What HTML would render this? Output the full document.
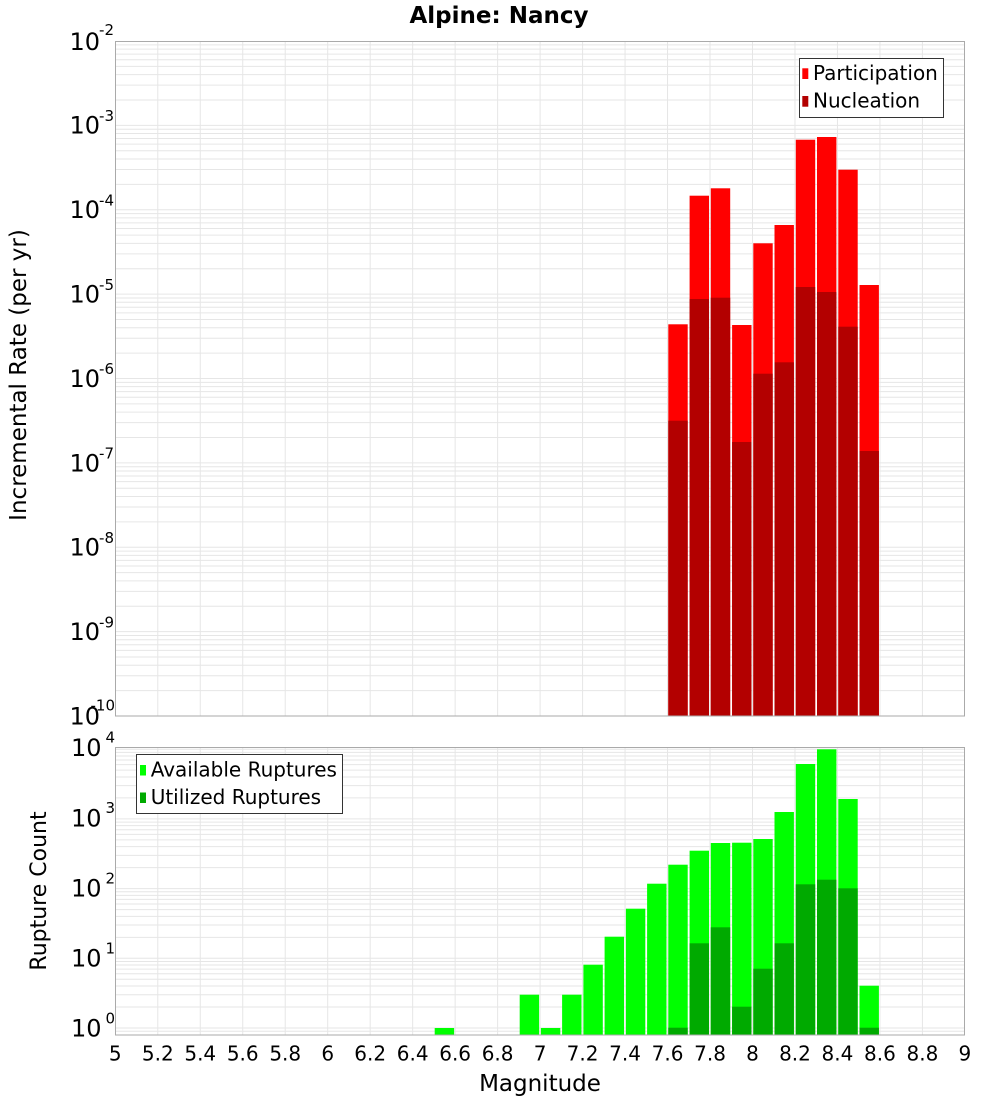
<!DOCTYPE html>
<html>
<head>
<meta charset="utf-8">
<style>
html,body{margin:0;padding:0;background:#fff;}
svg{display:block;font-family:"DejaVu Sans","Liberation Sans",sans-serif;}
</style>
</head>
<body>
<svg width="1000" height="1100" viewBox="0 0 1000 1100" xmlns="http://www.w3.org/2000/svg">
<rect x="0" y="0" width="1000" height="1100" fill="#fff"/>

<!-- Title -->
<text x="499" y="23" font-size="23" font-weight="bold" text-anchor="middle" fill="#000">Alpine: Nancy</text>

<!-- ========== TOP PANEL ========== -->
<g stroke="#e6e6e6" stroke-width="1" fill="none">
  <!-- vertical grid -->
  <path d="M157.78 41V716M200.26 41V716M242.74 41V716M285.22 41V716M327.7 41V716M370.18 41V716M412.66 41V716M455.14 41V716M497.62 41V716M540.1 41V716M582.58 41V716M625.06 41V716M667.54 41V716M710.02 41V716M752.5 41V716M794.98 41V716M837.46 41V716M879.94 41V716M922.42 41V716"/>
  <!-- horizontal grid (decades + minor) -->
  <path d="M115 125.4H965M115 209.75H965M115 294.1H965M115 378.5H965M115 462.9H965M115 547.25H965M115 631.6H965
  M115 690.6H965M115 675.74H965M115 665.2H965M115 657.02H965M115 650.34H965M115 644.69H965M115 639.8H965M115 635.49H965
  M115 606.23H965M115 591.37H965M115 580.83H965M115 572.65H965M115 565.97H965M115 560.32H965M115 555.43H965M115 551.12H965
  M115 521.85H965M115 506.99H965M115 496.45H965M115 488.27H965M115 481.59H965M115 475.94H965M115 471.05H965M115 466.74H965
  M115 437.48H965M115 422.62H965M115 412.08H965M115 403.9H965M115 397.22H965M115 391.57H965M115 386.68H965M115 382.37H965
  M115 353.1H965M115 338.24H965M115 327.7H965M115 319.52H965M115 312.84H965M115 307.19H965M115 302.3H965M115 297.99H965
  M115 268.73H965M115 253.87H965M115 243.33H965M115 235.15H965M115 228.47H965M115 222.82H965M115 217.93H965M115 213.62H965
  M115 184.35H965M115 169.49H965M115 158.95H965M115 150.77H965M115 144.09H965M115 138.44H965M115 133.55H965M115 129.24H965
  M115 99.98H965M115 85.12H965M115 74.58H965M115 66.4H965M115 59.72H965M115 54.07H965M115 49.18H965M115 44.87H965"/>
</g>

<!-- Participation bars -->
<g fill="#ff0000">
  <rect x="668.3" y="324.3" width="19.4" height="391.7"/>
  <rect x="689.6" y="195.7" width="19.4" height="520.3"/>
  <rect x="710.8" y="188.3" width="19.4" height="527.7"/>
  <rect x="732.1" y="325" width="19.4" height="391"/>
  <rect x="753.3" y="243.3" width="19.4" height="472.7"/>
  <rect x="774.5" y="225" width="19.4" height="491"/>
  <rect x="795.8" y="139.7" width="19.4" height="576.3"/>
  <rect x="817.0" y="137" width="19.4" height="579"/>
  <rect x="838.3" y="169.7" width="19.4" height="546.3"/>
  <rect x="859.5" y="285" width="19.4" height="431"/>
</g>
<!-- Nucleation bars -->
<g fill="#b30000">
  <rect x="668.3" y="420.7" width="19.4" height="295.3"/>
  <rect x="689.6" y="299" width="19.4" height="417"/>
  <rect x="710.8" y="297.7" width="19.4" height="418.3"/>
  <rect x="732.1" y="442" width="19.4" height="274"/>
  <rect x="753.3" y="373.7" width="19.4" height="342.3"/>
  <rect x="774.5" y="362.3" width="19.4" height="353.7"/>
  <rect x="795.8" y="287" width="19.4" height="429"/>
  <rect x="817.0" y="292" width="19.4" height="424"/>
  <rect x="838.3" y="326.7" width="19.4" height="389.3"/>
  <rect x="859.5" y="451" width="19.4" height="265"/>
</g>

<!-- top panel border -->
<rect x="115.5" y="41.5" width="849" height="674.5" fill="none" stroke="#aaaaaa" stroke-width="1"/>

<!-- top legend -->
<rect x="799.5" y="58.5" width="144" height="59" fill="#fff" stroke="#333" stroke-width="1"/>
<rect x="802.3" y="68.3" width="6" height="10.7" fill="#ff0000"/>
<rect x="802.3" y="96" width="6" height="10.7" fill="#b30000"/>
<text x="813" y="80" font-size="20" fill="#000">Participation</text>
<text x="813" y="107.7" font-size="20" fill="#000">Nucleation</text>

<!-- top y labels -->
<g fill="#000">
  <text x="100" y="50" font-size="24" text-anchor="end">10</text><text x="114" y="35" font-size="15" text-anchor="end">-2</text>
  <text x="100" y="133.7" font-size="24" text-anchor="end">10</text><text x="114" y="121" font-size="15" text-anchor="end">-3</text>
  <text x="100" y="218.1" font-size="24" text-anchor="end">10</text><text x="114" y="205.4" font-size="15" text-anchor="end">-4</text>
  <text x="100" y="302.5" font-size="24" text-anchor="end">10</text><text x="114" y="289.8" font-size="15" text-anchor="end">-5</text>
  <text x="100" y="386.9" font-size="24" text-anchor="end">10</text><text x="114" y="374.2" font-size="15" text-anchor="end">-6</text>
  <text x="100" y="471.3" font-size="24" text-anchor="end">10</text><text x="114" y="458.6" font-size="15" text-anchor="end">-7</text>
  <text x="100" y="555.7" font-size="24" text-anchor="end">10</text><text x="114" y="543" font-size="15" text-anchor="end">-8</text>
  <text x="100" y="640.1" font-size="24" text-anchor="end">10</text><text x="114" y="627.4" font-size="15" text-anchor="end">-9</text>
  <text x="100" y="724.5" font-size="24" text-anchor="end">10</text><text x="115" y="710.5" font-size="15" text-anchor="end">-10</text>
</g>

<!-- top y title -->
<text transform="translate(26,375) rotate(-90)" font-size="23" text-anchor="middle" fill="#000">Incremental Rate (per yr)</text>

<!-- ========== BOTTOM PANEL ========== -->
<g stroke="#e6e6e6" stroke-width="1" fill="none">
  <path d="M157.78 748V1035M200.26 748V1035M242.74 748V1035M285.22 748V1035M327.7 748V1035M370.18 748V1035M412.66 748V1035M455.14 748V1035M497.62 748V1035M540.1 748V1035M582.58 748V1035M625.06 748V1035M667.54 748V1035M710.02 748V1035M752.5 748V1035M794.98 748V1035M837.46 748V1035M879.94 748V1035M922.42 748V1035"/>
  <path d="M115 1028H965M115 958.3H965M115 888.6H965M115 818.9H965M115 749.2H965M115 1031.2H965
  M115 1007.02H965M115 994.74H965M115 986.04H965M115 979.28H965M115 973.76H965M115 969.1H965M115 965.05H965M115 961.49H965
  M115 937.32H965M115 925.04H965M115 916.34H965M115 909.58H965M115 904.06H965M115 899.4H965M115 895.35H965M115 891.79H965
  M115 867.62H965M115 855.34H965M115 846.64H965M115 839.88H965M115 834.36H965M115 829.7H965M115 825.65H965M115 822.09H965
  M115 797.92H965M115 785.64H965M115 776.94H965M115 770.18H965M115 764.66H965M115 760H965M115 755.95H965M115 752.39H965"/>
</g>

<!-- Available ruptures -->
<g fill="#00ff00">
  <rect x="434.7" y="1028" width="19.4" height="7"/>
  <rect x="519.7" y="994.7" width="19.4" height="40.3"/>
  <rect x="540.9" y="1028" width="19.4" height="7"/>
  <rect x="562.1" y="994.7" width="19.4" height="40.3"/>
  <rect x="583.4" y="964.7" width="19.4" height="70.3"/>
  <rect x="604.6" y="936.7" width="19.4" height="98.3"/>
  <rect x="625.9" y="908.7" width="19.4" height="126.3"/>
  <rect x="647.1" y="883.7" width="19.4" height="151.3"/>
  <rect x="668.3" y="864.7" width="19.4" height="170.3"/>
  <rect x="689.6" y="850.7" width="19.4" height="184.3"/>
  <rect x="710.8" y="843" width="19.4" height="192"/>
  <rect x="732.1" y="842.7" width="19.4" height="192.3"/>
  <rect x="753.3" y="839" width="19.4" height="196"/>
  <rect x="774.5" y="812" width="19.4" height="223"/>
  <rect x="795.8" y="764" width="19.4" height="271"/>
  <rect x="817.0" y="749.3" width="19.4" height="285.7"/>
  <rect x="838.3" y="799" width="19.4" height="236"/>
  <rect x="859.5" y="985.7" width="19.4" height="49.3"/>
</g>
<!-- Utilized ruptures -->
<g fill="#00aa00">
  <rect x="668.3" y="1027.7" width="19.4" height="7.3"/>
  <rect x="689.6" y="943.3" width="19.4" height="91.7"/>
  <rect x="710.8" y="927.3" width="19.4" height="107.7"/>
  <rect x="732.1" y="1006.7" width="19.4" height="28.3"/>
  <rect x="753.3" y="968.7" width="19.4" height="66.3"/>
  <rect x="774.5" y="943.3" width="19.4" height="91.7"/>
  <rect x="795.8" y="884.3" width="19.4" height="150.7"/>
  <rect x="817.0" y="879.7" width="19.4" height="155.3"/>
  <rect x="838.3" y="888.3" width="19.4" height="146.7"/>
  <rect x="859.5" y="1027.7" width="19.4" height="7.3"/>
</g>

<!-- bottom panel border -->
<rect x="115.5" y="747.5" width="849" height="287.5" fill="none" stroke="#aaaaaa" stroke-width="1"/>

<!-- bottom legend -->
<rect x="136.5" y="754.5" width="206" height="59" fill="#fff" stroke="#333" stroke-width="1"/>
<rect x="140" y="765" width="6" height="10.5" fill="#00ff00"/>
<rect x="140" y="792.5" width="6" height="10.5" fill="#00aa00"/>
<text x="150.7" y="776.7" font-size="20" fill="#000">Available Ruptures</text>
<text x="150.7" y="804" font-size="20" fill="#000">Utilized Ruptures</text>

<!-- bottom y labels -->
<g fill="#000">
  <text x="101.5" y="756" font-size="24" text-anchor="end">10</text><text x="115" y="742.3" font-size="15" text-anchor="end">4</text>
  <text x="101.5" y="826.5" font-size="24" text-anchor="end">10</text><text x="115" y="813" font-size="15" text-anchor="end">3</text>
  <text x="101.5" y="896.6" font-size="24" text-anchor="end">10</text><text x="115" y="883.3" font-size="15" text-anchor="end">2</text>
  <text x="101.5" y="966.7" font-size="24" text-anchor="end">10</text><text x="115" y="953.3" font-size="15" text-anchor="end">1</text>
  <text x="101.5" y="1036.7" font-size="24" text-anchor="end">10</text><text x="115" y="1023.3" font-size="15" text-anchor="end">0</text>
</g>

<!-- bottom y title -->
<text transform="translate(46,891) rotate(-90)" font-size="22" text-anchor="middle" fill="#000">Rupture Count</text>

<!-- x tick labels -->
<g font-size="20" text-anchor="middle" fill="#000">
  <text x="115.3" y="1060.7">5</text>
  <text x="157.78" y="1060.7">5.2</text>
  <text x="200.26" y="1060.7">5.4</text>
  <text x="242.74" y="1060.7">5.6</text>
  <text x="285.22" y="1060.7">5.8</text>
  <text x="327.7" y="1060.7">6</text>
  <text x="370.18" y="1060.7">6.2</text>
  <text x="412.66" y="1060.7">6.4</text>
  <text x="455.14" y="1060.7">6.6</text>
  <text x="497.62" y="1060.7">6.8</text>
  <text x="540.1" y="1060.7">7</text>
  <text x="582.58" y="1060.7">7.2</text>
  <text x="625.06" y="1060.7">7.4</text>
  <text x="667.54" y="1060.7">7.6</text>
  <text x="710.02" y="1060.7">7.8</text>
  <text x="752.5" y="1060.7">8</text>
  <text x="794.98" y="1060.7">8.2</text>
  <text x="837.46" y="1060.7">8.4</text>
  <text x="879.94" y="1060.7">8.6</text>
  <text x="922.42" y="1060.7">8.8</text>
  <text x="964.9" y="1060.7">9</text>
</g>

<!-- x title -->
<text x="540" y="1091" font-size="23" text-anchor="middle" fill="#000">Magnitude</text>
</svg>
</body>
</html>
